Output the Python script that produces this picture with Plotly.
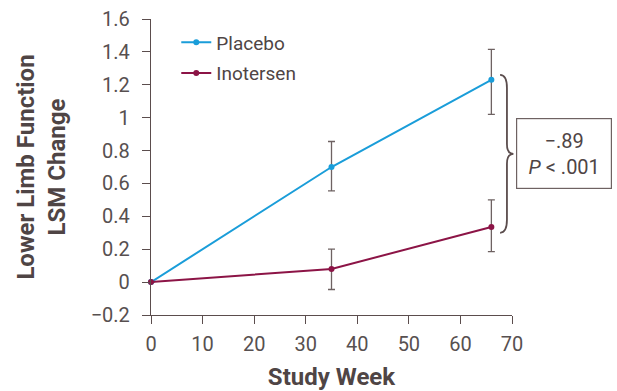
import plotly.graph_objects as go

weeks = [0, 35, 66]
placebo = [0.0, 0.70, 1.23]
placebo_lo = [0.0, 0.555, 1.02]
placebo_hi = [0.0, 0.855, 1.415]
inotersen = [0.0, 0.08, 0.335]
inotersen_lo = [0.0, -0.045, 0.185]
inotersen_hi = [0.0, 0.20, 0.50]
x_ticks = [0, 10, 20, 30, 40, 50, 60, 70]
y_ticks = [-0.2, 0, 0.2, 0.4, 0.6, 0.8, 1, 1.2, 1.4, 1.6]
diff_text = "−.89"
p_text = "<i>P</i> < .001"

AX = "#5b4d4d"
TXT = "#4f4545"
BLUE = "#1a9dd9"
RED = "#8c1446"


def err(vals, lo, hi):
    plus = [h - v for v, h in zip(vals, hi)]
    minus = [v - l for v, l in zip(vals, lo)]
    plus = [None if w == 0 else p for w, p in zip(weeks, plus)]
    minus = [None if w == 0 else m for w, m in zip(weeks, minus)]
    return dict(type="data", symmetric=False, array=plus, arrayminus=minus,
                color="#6e6262", thickness=1.3, width=3.5)


fig = go.Figure()
fig.add_trace(go.Scatter(
    x=weeks, y=placebo, name="Placebo", mode="lines+markers",
    line=dict(color=BLUE, width=2), marker=dict(color=BLUE, size=6),
    error_y=err(placebo, placebo_lo, placebo_hi), cliponaxis=False,
    legendgroup="a"))
fig.add_trace(go.Scatter(
    x=weeks, y=inotersen, name="Inotersen", mode="lines+markers",
    line=dict(color=RED, width=2), marker=dict(color=RED, size=6),
    error_y=err(inotersen, inotersen_lo, inotersen_hi), cliponaxis=False,
    legendgroup="b"))

# curly brace between the final points
top = placebo[-1] + 0.03
bot = inotersen[-1] - 0.035
mid = (top + bot) / 2
x0, xv, xc = 0.967, 0.986, 1.004
path = (f"M {x0},{top} Q {xv},{top} {xv},{top-0.08} "
        f"L {xv},{mid+0.06} Q {xv},{mid} {xc},{mid} "
        f"Q {xv},{mid} {xv},{mid-0.06} "
        f"L {xv},{bot+0.08} Q {xv},{bot} {x0},{bot}")
fig.add_shape(type="path", xref="paper", yref="y", path=path,
              line=dict(color=AX, width=1.8))

fig.add_annotation(
    xref="paper", yref="y", x=1.143, y=mid, xanchor="center", yanchor="middle",
    showarrow=False,
    text=f"{diff_text}<br>{p_text}", align="center",
    font=dict(family="Roboto", size=20, color=TXT),
    bordercolor="#6e6262", borderwidth=1.2, borderpad=0,
    width=94, height=69, bgcolor="white")

fig.update_layout(
    width=617, height=391,
    margin=dict(l=151, r=105, t=19, b=76, autoexpand=False),
    paper_bgcolor="white", plot_bgcolor="white",
    font=dict(family="Roboto", color=TXT),
    showlegend=True,
    legend=dict(x=0.07, y=0.985, xanchor="left", yanchor="top",
                font=dict(family="Roboto", size=19, color=TXT),
                tracegroupgap=3, bgcolor="rgba(0,0,0,0)"),
    xaxis=dict(range=[0, 70], tickvals=x_ticks, showgrid=False, zeroline=False,
               showline=True, linecolor=AX, linewidth=1.3, automargin=False,
               ticks="outside", ticklen=8, tickcolor=AX, tickwidth=1.3,
               ticklabelstandoff=3,
               tickfont=dict(family="Roboto", size=20, color="#575050"),
               title=dict(text="<b>Study Week</b>", standoff=16,
                          font=dict(family="Roboto", size=24, color=TXT))),
    yaxis=dict(range=[-0.2, 1.6], tickvals=y_ticks, showgrid=False, zeroline=False,
               showline=True, linecolor=AX, linewidth=1.3, automargin=False,
               ticks="outside", ticklen=8, tickcolor=AX, tickwidth=1.3,
               ticklabelstandoff=8,
               tickfont=dict(family="Roboto", size=20, color="#575050"),
               title=dict(text="<b>Lower Limb Function<br>LSM Change</b>", standoff=18,
                          font=dict(family="Roboto", size=24, color=TXT))),
)

fig.write_html("out.html", config={"displayModeBar": False},
               post_script="document.body.style.margin='0';document.body.style.overflow='hidden';")
